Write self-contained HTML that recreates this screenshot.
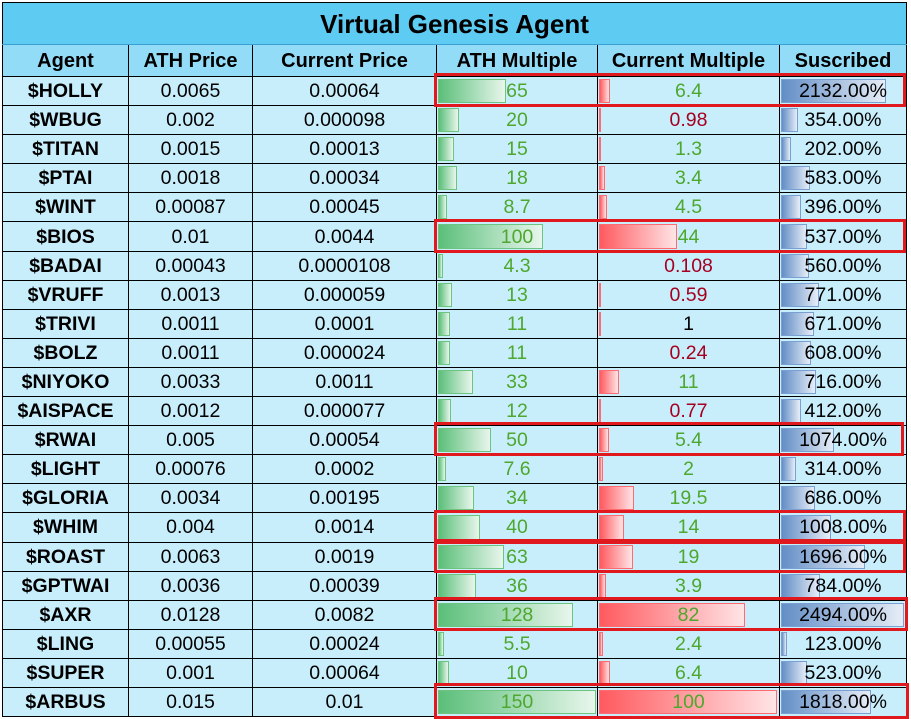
<!DOCTYPE html>
<html><head><meta charset="utf-8"><style>
body{margin:0;width:911px;height:719px;background:#fff;position:relative;overflow:hidden;font-family:"Liberation Sans",Arial,sans-serif}
table{position:absolute;left:2px;top:2px;border-collapse:collapse;table-layout:fixed}
td{border:1px solid #000;padding:0;text-align:center;position:relative;font-size:19.5px;color:#000;background:#c9eefb;height:28.1px;line-height:28px;white-space:nowrap}
td.t{background:#5ecbf3;font-weight:bold;font-size:26px;height:41px;border-bottom:1px solid #3aa0d0}
tr.h td{background:#93dcf7;font-weight:bold;font-size:20px;height:31px}
td.a{font-weight:bold}
.b{position:absolute;left:1px;top:2px;bottom:2px}
.g{background:linear-gradient(90deg,#5bbf7a,#e8f6ec);border:1px solid #6cc47f;box-sizing:border-box}
.r{background:linear-gradient(90deg,#ff5a5f,#ffe4e6);border:1px solid #ff6b70;box-sizing:border-box}
.s{background:linear-gradient(90deg,#638ec6,#e6edf7);border:1px solid #7a9fd2;box-sizing:border-box}
td span{position:relative}
.gn{color:#4ea72e}.rd{color:#a50021}
.box{position:absolute;border:3px solid #e0191f;box-sizing:border-box}
</style></head><body>
<table>
<colgroup><col style="width:126px"><col style="width:124px"><col style="width:184px"><col style="width:161px"><col style="width:182px"><col style="width:127px"></colgroup>
<tr><td class="t" colspan="6">Virtual Genesis Agent</td></tr>
<tr class="h"><td>Agent</td><td>ATH Price</td><td>Current Price</td><td>ATH Multiple</td><td>Current Multiple</td><td>Suscribed</td></tr>
<tr><td class="a">$HOLLY</td><td>0.0065</td><td>0.00064</td><td><div class="b g" style="width:68px"></div><span class="gn">65</span></td><td><div class="b r" style="width:11px"></div><span class="gn">6.4</span></td><td><div class="b s" style="width:105px"></div><span>2132.00%</span></td></tr>
<tr><td class="a">$WBUG</td><td>0.002</td><td>0.000098</td><td><div class="b g" style="width:21px"></div><span class="gn">20</span></td><td><div class="b r" style="width:2px"></div><span class="rd">0.98</span></td><td><div class="b s" style="width:17px"></div><span>354.00%</span></td></tr>
<tr><td class="a">$TITAN</td><td>0.0015</td><td>0.00013</td><td><div class="b g" style="width:16px"></div><span class="gn">15</span></td><td><div class="b r" style="width:2px"></div><span class="gn">1.3</span></td><td><div class="b s" style="width:10px"></div><span>202.00%</span></td></tr>
<tr><td class="a">$PTAI</td><td>0.0018</td><td>0.00034</td><td><div class="b g" style="width:19px"></div><span class="gn">18</span></td><td><div class="b r" style="width:6px"></div><span class="gn">3.4</span></td><td><div class="b s" style="width:29px"></div><span>583.00%</span></td></tr>
<tr><td class="a">$WINT</td><td>0.00087</td><td>0.00045</td><td><div class="b g" style="width:9px"></div><span class="gn">8.7</span></td><td><div class="b r" style="width:8px"></div><span class="gn">4.5</span></td><td><div class="b s" style="width:20px"></div><span>396.00%</span></td></tr>
<tr><td class="a">$BIOS</td><td>0.01</td><td>0.0044</td><td><div class="b g" style="width:105px"></div><span class="gn">100</span></td><td><div class="b r" style="width:78px"></div><span class="gn">44</span></td><td><div class="b s" style="width:26px"></div><span>537.00%</span></td></tr>
<tr><td class="a">$BADAI</td><td>0.00043</td><td>0.0000108</td><td><div class="b g" style="width:5px"></div><span class="gn">4.3</span></td><td><span class="rd">0.108</span></td><td><div class="b s" style="width:28px"></div><span>560.00%</span></td></tr>
<tr><td class="a">$VRUFF</td><td>0.0013</td><td>0.000059</td><td><div class="b g" style="width:14px"></div><span class="gn">13</span></td><td><div class="b r" style="width:1px"></div><span class="rd">0.59</span></td><td><div class="b s" style="width:38px"></div><span>771.00%</span></td></tr>
<tr><td class="a">$TRIVI</td><td>0.0011</td><td>0.0001</td><td><div class="b g" style="width:12px"></div><span class="gn">11</span></td><td><div class="b r" style="width:2px"></div><span>1</span></td><td><div class="b s" style="width:33px"></div><span>671.00%</span></td></tr>
<tr><td class="a">$BOLZ</td><td>0.0011</td><td>0.000024</td><td><div class="b g" style="width:12px"></div><span class="gn">11</span></td><td><span class="rd">0.24</span></td><td><div class="b s" style="width:30px"></div><span>608.00%</span></td></tr>
<tr><td class="a">$NIYOKO</td><td>0.0033</td><td>0.0011</td><td><div class="b g" style="width:35px"></div><span class="gn">33</span></td><td><div class="b r" style="width:20px"></div><span class="gn">11</span></td><td><div class="b s" style="width:35px"></div><span>716.00%</span></td></tr>
<tr><td class="a">$AISPACE</td><td>0.0012</td><td>0.000077</td><td><div class="b g" style="width:13px"></div><span class="gn">12</span></td><td><div class="b r" style="width:1px"></div><span class="rd">0.77</span></td><td><div class="b s" style="width:20px"></div><span>412.00%</span></td></tr>
<tr><td class="a">$RWAI</td><td>0.005</td><td>0.00054</td><td><div class="b g" style="width:53px"></div><span class="gn">50</span></td><td><div class="b r" style="width:10px"></div><span class="gn">5.4</span></td><td><div class="b s" style="width:53px"></div><span>1074.00%</span></td></tr>
<tr><td class="a">$LIGHT</td><td>0.00076</td><td>0.0002</td><td><div class="b g" style="width:8px"></div><span class="gn">7.6</span></td><td><div class="b r" style="width:4px"></div><span class="gn">2</span></td><td><div class="b s" style="width:15px"></div><span>314.00%</span></td></tr>
<tr><td class="a">$GLORIA</td><td>0.0034</td><td>0.00195</td><td><div class="b g" style="width:36px"></div><span class="gn">34</span></td><td><div class="b r" style="width:35px"></div><span class="gn">19.5</span></td><td><div class="b s" style="width:34px"></div><span>686.00%</span></td></tr>
<tr><td class="a">$WHIM</td><td>0.004</td><td>0.0014</td><td><div class="b g" style="width:42px"></div><span class="gn">40</span></td><td><div class="b r" style="width:25px"></div><span class="gn">14</span></td><td><div class="b s" style="width:50px"></div><span>1008.00%</span></td></tr>
<tr><td class="a">$ROAST</td><td>0.0063</td><td>0.0019</td><td><div class="b g" style="width:66px"></div><span class="gn">63</span></td><td><div class="b r" style="width:34px"></div><span class="gn">19</span></td><td><div class="b s" style="width:84px"></div><span>1696.00%</span></td></tr>
<tr><td class="a">$GPTWAI</td><td>0.0036</td><td>0.00039</td><td><div class="b g" style="width:38px"></div><span class="gn">36</span></td><td><div class="b r" style="width:7px"></div><span class="gn">3.9</span></td><td><div class="b s" style="width:39px"></div><span>784.00%</span></td></tr>
<tr><td class="a">$AXR</td><td>0.0128</td><td>0.0082</td><td><div class="b g" style="width:135px"></div><span class="gn">128</span></td><td><div class="b r" style="width:146px"></div><span class="gn">82</span></td><td><div class="b s" style="width:123px"></div><span>2494.00%</span></td></tr>
<tr><td class="a">$LING</td><td>0.00055</td><td>0.00024</td><td><div class="b g" style="width:6px"></div><span class="gn">5.5</span></td><td><div class="b r" style="width:4px"></div><span class="gn">2.4</span></td><td><div class="b s" style="width:6px"></div><span>123.00%</span></td></tr>
<tr><td class="a">$SUPER</td><td>0.001</td><td>0.00064</td><td><div class="b g" style="width:11px"></div><span class="gn">10</span></td><td><div class="b r" style="width:11px"></div><span class="gn">6.4</span></td><td><div class="b s" style="width:26px"></div><span>523.00%</span></td></tr>
<tr><td class="a">$ARBUS</td><td>0.015</td><td>0.01</td><td><div class="b g" style="width:158px"></div><span class="gn">150</span></td><td><div class="b r" style="width:178px"></div><span class="gn">100</span></td><td><div class="b s" style="width:90px"></div><span>1818.00%</span></td></tr>
</table>
<div class="box" style="left:434px;top:73px;width:472px;height:34px"></div>
<div class="box" style="left:434px;top:219px;width:472px;height:34px"></div>
<div class="box" style="left:434px;top:422px;width:470px;height:34px"></div>
<div class="box" style="left:434px;top:510px;width:472px;height:34px"></div>
<div class="box" style="left:434px;top:539px;width:472px;height:34px"></div>
<div class="box" style="left:434px;top:597px;width:474px;height:34px"></div>
<div class="box" style="left:434px;top:683px;width:475px;height:36px"></div>
</body></html>
